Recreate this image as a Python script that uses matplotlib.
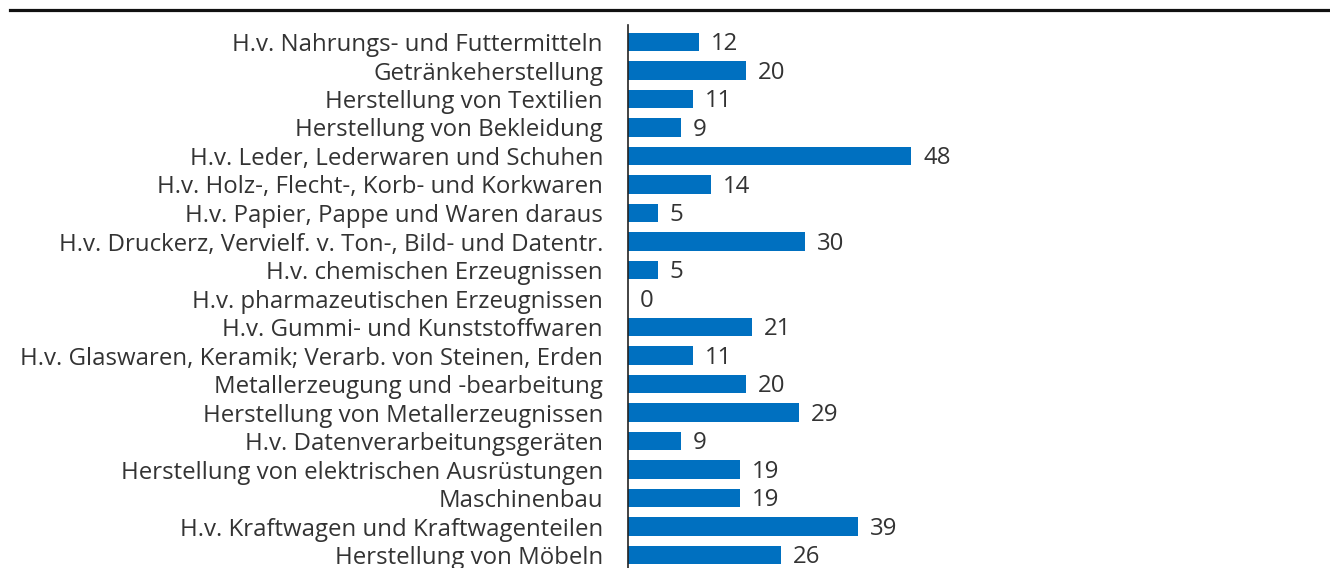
import matplotlib
matplotlib.use("Agg")
import matplotlib.pyplot as plt
from matplotlib.lines import Line2D

categories = [
    "H.v. Nahrungs- und Futtermitteln",
    "Getränkeherstellung",
    "Herstellung von Textilien",
    "Herstellung von Bekleidung",
    "H.v. Leder, Lederwaren und Schuhen",
    "H.v. Holz-, Flecht-, Korb- und Korkwaren",
    "H.v. Papier, Pappe und Waren daraus",
    "H.v. Druckerz, Vervielf. v. Ton-, Bild- und Datentr.",
    "H.v. chemischen Erzeugnissen",
    "H.v. pharmazeutischen Erzeugnissen",
    "H.v. Gummi- und Kunststoffwaren",
    "H.v. Glaswaren, Keramik; Verarb. von Steinen, Erden",
    "Metallerzeugung und -bearbeitung",
    "Herstellung von Metallerzeugnissen",
    "H.v. Datenverarbeitungsgeräten",
    "Herstellung von elektrischen Ausrüstungen",
    "Maschinenbau",
    "H.v. Kraftwagen und Kraftwagenteilen",
    "Herstellung von Möbeln",
]
values = [12, 20, 11, 9, 48, 14, 5, 30, 5, 0, 21, 11, 20, 29, 9, 19, 19, 39, 26]

plt.rcParams['font.family'] = ['Open Sans', 'DejaVu Sans']

W, H = 1330, 568
fig = plt.figure(figsize=(W / 100, H / 100), dpi=100)

ax_left = 628
ax_top = 25
ax = fig.add_axes([ax_left / W, 0, (W - ax_left) / W, (H - ax_top) / H])

pos = list(range(len(categories)))
ax.barh(pos, values, height=0.65, color="#0070C0")

px_per_unit = 5.9
ax.set_xlim(0, (W - ax_left) / px_per_unit)
row_px = 28.5
first_center = 42
ax.set_ylim((H - first_center) / row_px, (ax_top - first_center) / row_px)

fs = 17.3
for p, v in zip(pos, values):
    ax.annotate(str(v), xy=(v, p), xytext=(8.5, -1.5), textcoords="offset points",
                va="center", ha="left", fontsize=fs, color="#333333")

ax.set_yticks(pos)
ax.set_yticklabels(categories, fontsize=fs, color="#333333")
ax.tick_params(axis="y", length=0, pad=18)
ax.set_xticks([])
for s in ["top", "right", "bottom"]:
    ax.spines[s].set_visible(False)
ax.spines["left"].set_linewidth(1.2)
ax.spines["left"].set_color("#222222")

fig.add_artist(Line2D([10 / W, 1], [1 - 10 / H, 1 - 10 / H], color="#111111",
                      linewidth=2.3, transform=fig.transFigure))

fig.savefig("out.png", dpi=100)
